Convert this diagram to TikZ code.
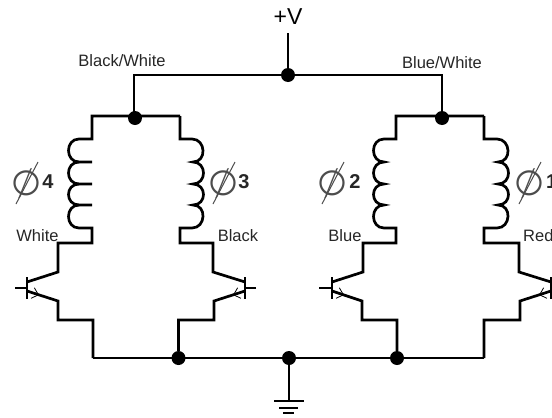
\documentclass[tikz,border=0pt]{standalone}
\usepackage{fontspec}
\setmainfont{Liberation Sans}
\newfontfamily\phifont{DejaVu Sans}
\usetikzlibrary{arrows.meta}

\tikzset{
  wire/.style={line width=2.7pt,line join=miter},
  thinwire/.style={line width=1.7pt},
  dot/.style={circle,fill=black,inner sep=0pt,minimum size=14pt},
  hump/.style={to path={.. controls +(#1,0) and +(#1,0) .. (\tikztotarget)}},
  tip/.style={line width=0.8pt,-{Straight Barb[length=6pt,width=11pt]}},
  lab/.style={font=\fontsize{16.5}{16.5}\selectfont,text=black!85,inner sep=0pt},
  phase/.style={font=\fontsize{20}{20}\selectfont\bfseries,text=black!85,inner sep=0pt},
  phi/.style={font=\fontsize{35}{35}\phifont,text=black!70,inner sep=0pt,rotate=17},
  slash/.style={line width=1pt,black!70}
}

\begin{document}
\begin{tikzpicture}[x=1pt,y=-1pt]

        \useasboundingbox (0,0) rectangle (552,418);

        \begin{scope}[every node/.style=dot]
          \node (vcc)  at (288,75)    {};
          \node (jl)   at (135,118)   {};
          \node (jr)   at (442,118)   {};
          \node (gl)   at (178.5,358) {};
          \node (gm)   at (289,358)   {};
          \node (gr)   at (397,358)   {};
        \end{scope}

        % supply and ground
        \coordinate (vtop) at (288,33);
        \coordinate (tl)   at (134,75);
        \coordinate (tr)   at (442,75);
        \coordinate (gnd)  at (289,401);
        \coordinate (g1a) at (274,401); \coordinate (g1b) at (304,401);
        \coordinate (g2a) at (279,408); \coordinate (g2b) at (298,408);
        \coordinate (g3a) at (283,413); \coordinate (g3b) at (294,413);
        \coordinate (bl)  at (134,116); \coordinate (br)  at (442,116);

        % phase 4
        \coordinate (a4)  at (92,116);  \coordinate (b4)  at (92,139);
        \coordinate (h41) at (79,139);  \coordinate (h42) at (79,162); \coordinate (k41) at (92,162);
        \coordinate (h43) at (79,184);  \coordinate (k42) at (92,184);
        \coordinate (h44) at (79,205);  \coordinate (k43) at (92,205);
        \coordinate (h45) at (79,228);  \coordinate (c4)  at (92,228);
        \coordinate (d4)  at (92,243);  \coordinate (e4)  at (58,243);
        \coordinate (f4)  at (58,272);  \coordinate (q4b) at (27,282);
        \coordinate (q4t) at (27,277);  \coordinate (q4u) at (27,299);
        \coordinate (q4l) at (15,288);  \coordinate (q4m) at (27,288);
        \coordinate (q4e) at (27,291);  \coordinate (r4)  at (58,301);
        \coordinate (s4)  at (58,320);  \coordinate (u4)  at (93,320);
        \coordinate (v4)  at (93,358);
        \coordinate (m4a) at (31,292.5); \coordinate (m4b) at (39,295);

        % phase 3
        \coordinate (a3)  at (180,116); \coordinate (b3)  at (180,139);
        \coordinate (h31) at (192,139); \coordinate (h32) at (193,162);
        \coordinate (h33) at (193,184); \coordinate (h34) at (193,205);
        \coordinate (h35) at (192,228); \coordinate (c3)  at (180,228);
        \coordinate (d3)  at (180,243); \coordinate (e3)  at (213,243);
        \coordinate (f3)  at (213,272); \coordinate (q3b) at (245,282);
        \coordinate (q3t) at (245,277); \coordinate (q3u) at (245,299);
        \coordinate (q3l) at (256,288); \coordinate (q3m) at (245,288);
        \coordinate (q3e) at (245,291); \coordinate (r3)  at (214,301);
        \coordinate (s3)  at (214,320); \coordinate (u3)  at (178.5,320);
        \coordinate (m3a) at (241,292.5); \coordinate (m3b) at (233,295);

        % phase 2
        \coordinate (a2)  at (396,116); \coordinate (b2)  at (396,139);
        \coordinate (h21) at (384,139); \coordinate (h22) at (384,162);
        \coordinate (h23) at (384,184); \coordinate (h24) at (384,205);
        \coordinate (h25) at (384,228); \coordinate (c2)  at (396,228);
        \coordinate (d2)  at (396,243); \coordinate (e2)  at (363,243);
        \coordinate (f2)  at (363,272); \coordinate (q2b) at (332,282);
        \coordinate (q2t) at (332,277); \coordinate (q2u) at (332,299);
        \coordinate (q2l) at (319,288); \coordinate (q2m) at (332,288);
        \coordinate (q2e) at (332,291); \coordinate (r2)  at (362,301);
        \coordinate (s2)  at (362,320); \coordinate (u2)  at (397,320);
        \coordinate (m2a) at (336,292.5); \coordinate (m2b) at (344,295);

        % phase 1
        \coordinate (a1)  at (484,116); \coordinate (b1)  at (484,139);
        \coordinate (h11) at (497,139); \coordinate (h12) at (498,162);
        \coordinate (h13) at (498,184); \coordinate (h14) at (498,205);
        \coordinate (h15) at (497,228); \coordinate (c1)  at (484,228);
        \coordinate (d1)  at (484,243); \coordinate (e1)  at (519,243);
        \coordinate (f1)  at (519,272); \coordinate (q1b) at (551,282);
        \coordinate (q1t) at (551,277); \coordinate (q1u) at (551,299);
        \coordinate (q1e) at (551,291); \coordinate (r1)  at (520,301);
        \coordinate (s1)  at (520,320); \coordinate (u1)  at (484,320);
        \coordinate (v1)  at (484,358);
        \coordinate (m1a) at (547,292.5); \coordinate (m1b) at (539,295);

        \begin{scope}[wire]
          \draw (vtop) -- (vcc);
          \draw (bl) -- (tl) -- (tr) -- (br);
          \draw (gm) -- (gnd);
          \draw (v4) -- (v1);
          \draw (g1a) -- (g1b);
          \draw (g2a) -- (g2b);
          \draw (g3a) -- (g3b);

          \draw (a3) -- (a4) -- (b4) -- (h41) to[hump=-14] (h42) -- (k41);
          \draw (h42) to[hump=-14] (h43) -- (k42);
          \draw (h43) to[hump=-14] (h44) -- (k43);
          \draw (h44) to[hump=-14] (h45) -- (c4) -- (d4) -- (e4) -- (f4) -- (q4b);
          \draw (q4e) -- (r4) -- (s4) -- (u4) -- (v4);

          \draw (a3) -- (b3) -- (h31) to[hump=14] (h32) to[hump=14] (h33) to[hump=14] (h34)
                to[hump=14] (h35) -- (c3) -- (d3) -- (e3) -- (f3) -- (q3b);
          \draw (q3e) -- (r3) -- (s3) -- (u3) -- (gl);

          \draw (a1) -- (a2) -- (b2) -- (h21) to[hump=-14] (h22) to[hump=-14] (h23) to[hump=-14] (h24)
                to[hump=-14] (h25) -- (c2) -- (d2) -- (e2) -- (f2) -- (q2b);
          \draw (q2e) -- (r2) -- (s2) -- (u2) -- (gr);

          \draw (a1) -- (b1) -- (h11) to[hump=14] (h12) to[hump=14] (h13) to[hump=14] (h14)
                to[hump=14] (h15) -- (c1) -- (d1) -- (e1) -- (f1) -- (q1b);
          \draw (q1e) -- (r1) -- (s1) -- (u1) -- (v1);
        \end{scope}

        \begin{scope}[thinwire]
          \draw (q4t) -- (q4u);
          \draw (q4l) -- (q4m);
          \draw (q3t) -- (q3u);
          \draw (q3l) -- (q3m);
          \draw (q2t) -- (q2u);
          \draw (q2l) -- (q2m);
          \draw (q1t) -- (q1u);
        \end{scope}

        \draw[tip] (m4a) -- (m4b);
        \draw[tip] (m3a) -- (m3b);
        \draw[tip] (m2a) -- (m2b);
        \draw[tip] (m1a) -- (m1b);

        \node[font=\fontsize{23}{23}\selectfont,inner sep=0pt] (vlab) at (288,17) {+V};

        \begin{scope}[every node/.style=lab]
          \node (lbw) at (122,61)   {Black/White};
          \node (lrw) at (442,63)   {Blue/White};
          \node (lw)  at (37.5,236) {White};
          \node (lk)  at (238,236)  {Black};
          \node (lb)  at (345,236)  {Blue};
          \node[anchor=west] (lr) at (523,236) {Red};
        \end{scope}

        \begin{scope}[every node/.style=phi]
          \node (p4) at (26,183)  {∅};
          \node (p3) at (223,183) {∅};
          \node (p2) at (332,183) {∅};
          \node (p1) at (529,183) {∅};
        \end{scope}

        % long strokes through the phase signs
        \draw[slash] (16,204) -- (38,162);
        \draw[slash] (213,204) -- (235,162);
        \draw[slash] (322,204) -- (344,162);
        \draw[slash] (519,204) -- (541,162);

        \begin{scope}[every node/.style=phase]
          \node (n4) at (48,182)  {4};
          \node (n3) at (244,182) {3};
          \node (n2) at (355,182) {2};
          \node[anchor=west] (n1) at (546,182) {1};
        \end{scope}

      \end{tikzpicture}
\end{document}
